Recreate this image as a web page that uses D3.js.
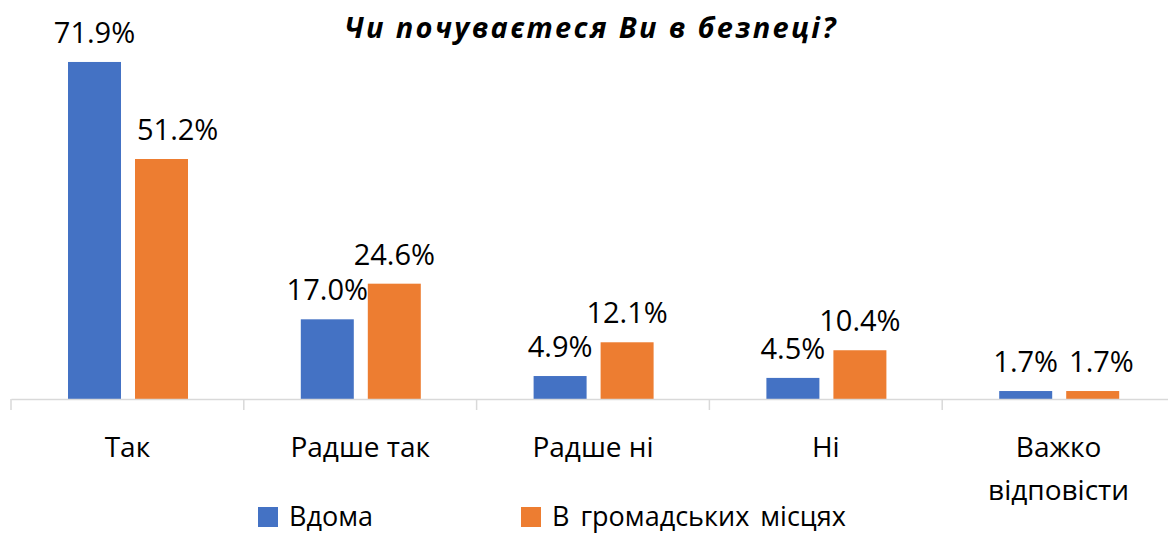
<!DOCTYPE html>
<html>
<head>
<meta charset="utf-8">
<script src="https://cdn.jsdelivr.net/npm/d3@7"></script>
<style>
  body { margin: 0; background: #fff; }
  svg { display: block; font-family: "Open Sans", sans-serif; }
</style>
</head>
<body>
<div id="chart"></div>
<script>
// data
const categories = ["Так", "Радше так", "Радше ні", "Ні", "Важко відповісти"];
const seriesNames = ["Вдома", "В громадських місцях"];
const atHome = [71.9, 17.0, 4.9, 4.5, 1.7];
const inPublic = [51.2, 24.6, 12.1, 10.4, 1.7];
const colors = ["#4472C4", "#ED7D31"];

const width = 1168, height = 533;
const baseY = 399;
const labelSize = 29;

const svg = d3.select("#chart")
    .append("svg")
    .attr("width", width)
    .attr("height", height);

// category bands (last band runs slightly past the right edge, like the original)
const x0 = d3.scaleBand().domain(categories).range([11, 11 + 5 * 232.8]);
const x1 = d3.scaleBand().domain(seriesNames).range([57, 177]).paddingInner(0.209);
const y = d3.scaleLinear().domain([0, 80]).range([baseY, 24]);

const rows = categories.map((c, i) => ({
    cat: c,
    vals: [
        { name: seriesNames[0], v: atHome[i], color: colors[0] },
        { name: seriesNames[1], v: inPublic[i], color: colors[1] }
    ]
}));

// title
svg.append("text")
    .attr("x", 591)
    .attr("y", 38)
    .attr("text-anchor", "middle")
    .attr("font-size", 29)
    .attr("font-weight", "bold")
    .attr("font-style", "italic")
    .attr("letter-spacing", 2.3)
    .attr("fill", "#000")
    .text("Чи почуваєтеся Ви в безпеці?");

// bars
const groups = svg.selectAll(".grp")
    .data(rows)
    .enter().append("g")
    .attr("class", "grp")
    .attr("transform", d => `translate(${x0(d.cat)},0)`);

groups.selectAll("rect")
    .data(d => d.vals)
    .enter().append("rect")
    .attr("x", d => x1(d.name))
    .attr("y", d => y(d.v))
    .attr("width", x1.bandwidth())
    .attr("height", d => baseY - y(d.v))
    .attr("fill", d => d.color);

// data labels
groups.selectAll(".lbl")
    .data(d => d.vals)
    .enter().append("text")
    .attr("class", "lbl")
    .attr("x", d => x1(d.name) + x1.bandwidth() / 2)
    .attr("y", d => y(d.v) - 19)
    .attr("text-anchor", "middle")
    .attr("font-size", labelSize)
    .attr("fill", "#000")
    .text(d => d.v.toFixed(1) + "%");

// push the second label right when it runs into the first label or the taller first bar
groups.each(function (d) {
    const lbls = d3.select(this).selectAll(".lbl").nodes();
    const a = lbls[0].getBBox(), b = lbls[1].getBBox();
    const second = d3.select(lbls[1]);
    const by = +second.attr("y");
    let shift = 0;
    if (Math.abs(+d3.select(lbls[0]).attr("y") - by) < labelSize * 0.75 && b.x < a.x + a.width + 8) {
        shift = a.x + a.width + 11 - b.x;
    }
    const barRight = x1(seriesNames[0]) + x1.bandwidth();
    if (y(d.vals[0].v) < by && b.x < barRight + 14) {
        shift = Math.max(shift, barRight + 16 - b.x);
    }
    if (shift) second.attr("x", +second.attr("x") + shift);
});

// x axis
const axis = svg.append("g")
    .attr("transform", `translate(0,${baseY})`)
    .call(d3.axisBottom(x0).tickSize(0).tickFormat(""));
axis.select(".domain").attr("stroke", "#d9d9d9").attr("stroke-width", 1.5);

// boundary ticks between categories
const bounds = categories.map(c => x0(c)).concat([x0.range()[1]]);
axis.selectAll(".bnd")
    .data(bounds)
    .enter().append("line")
    .attr("class", "bnd")
    .attr("x1", d => d).attr("x2", d => d)
    .attr("y1", 0).attr("y2", 11)
    .attr("stroke", "#d9d9d9")
    .attr("stroke-width", 1.5);

// category labels (wrapped in two lines for the last one)
const catLabels = svg.selectAll(".cat")
    .data(categories)
    .enter().append("text")
    .attr("class", "cat")
    .attr("text-anchor", "middle")
    .attr("font-size", 28)
    .attr("fill", "#000");

catLabels.each(function (d) {
    const cx = x0(d) + x0.bandwidth() / 2;
    const lines = d === "Важко відповісти" ? ["Важко", "відповісти"] : [d];
    d3.select(this).selectAll("tspan")
        .data(lines)
        .enter().append("tspan")
        .attr("x", cx)
        .attr("y", (l, i) => 457 + i * 43)
        .text(l => l);
});

// legend
const legX = [258, 521];
const leg = svg.selectAll(".leg")
    .data(seriesNames)
    .enter().append("g")
    .attr("class", "leg")
    .attr("transform", (d, i) => `translate(${legX[i]},507)`);

leg.append("rect")
    .attr("width", 20)
    .attr("height", 20)
    .attr("fill", (d, i) => colors[i]);

leg.append("text")
    .attr("x", 31)
    .attr("y", 19)
    .attr("font-size", 27)
    .attr("word-spacing", 4)
    .attr("fill", "#000")
    .text(d => d);
</script>
</body>
</html>
